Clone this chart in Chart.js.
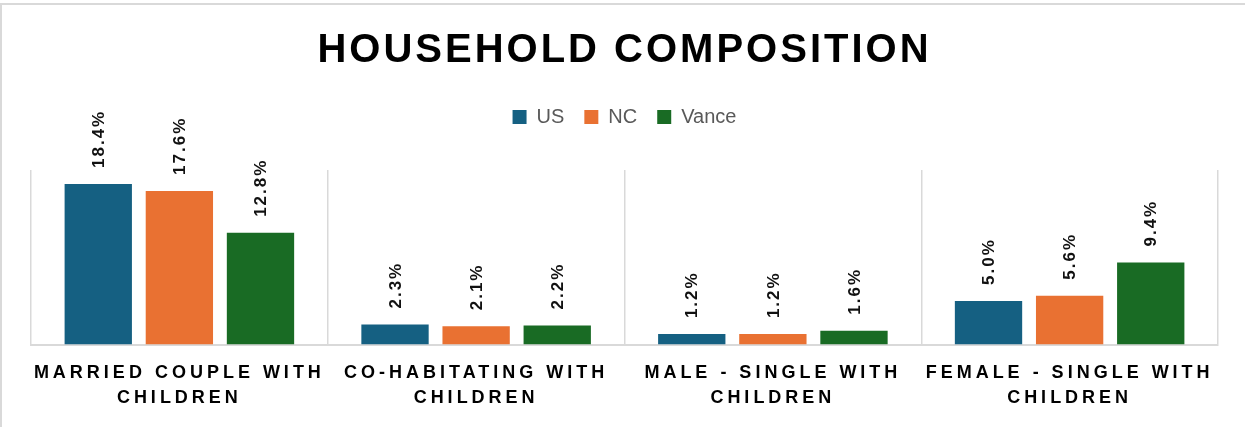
<!DOCTYPE html>
<html>
<head>
<meta charset="utf-8">
<script src="https://cdn.jsdelivr.net/npm/chart.js@4"></script>
<style>
  html, body { margin: 0; padding: 0; background: #fff; }
  #wrap { position: relative; width: 1247px; height: 427px; }
  #frame { position: absolute; left: 0; top: 3px; width: 1245px; height: 424px;
           border-top: 2px solid #d9d9d9; border-left: 2px solid #d9d9d9; box-sizing: border-box; }
  #chart { position: absolute; left: 0; top: 0; }
</style>
</head>
<body>
<div id="wrap">
  <div id="frame"></div>
  <canvas id="chart" width="1247" height="427"></canvas>
</div>
<script>
// data
const categories = [
    ['MARRIED COUPLE WITH', 'CHILDREN'],
    ['CO-HABITATING WITH', 'CHILDREN'],
    ['MALE - SINGLE WITH', 'CHILDREN'],
    ['FEMALE - SINGLE WITH', 'CHILDREN']
];
const seriesNames = ['US', 'NC', 'Vance'];
const usValues = [18.4, 2.3, 1.2, 5.0];
const ncValues = [17.6, 2.1, 1.2, 5.6];
const vanceValues = [12.8, 2.2, 1.6, 9.4];
const colors = ['#156082', '#E97132', '#196B24'];

// canvas letter spacing for a single draw call
function spaced(obj, method, px) {
    if (!obj || obj['_sp_' + method]) return;
    const orig = obj[method];
    obj[method] = function () {
        const ctx = this.ctx;
        const old = ctx.letterSpacing;
        ctx.letterSpacing = px;
        const r = orig.apply(this, arguments);
        ctx.letterSpacing = old;
        return r;
    };
    obj['_sp_' + method] = true;
}

const letterSpacing = {
    id: 'letterSpacing',
    beforeDraw(chart) {
        spaced(chart.titleBlock, 'draw', '3px');
        spaced(chart.scales.x, 'drawLabels', '4px');
    }
};

// extra room between legend and plot
const legendGap = {
    id: 'legendGap',
    beforeInit(chart) {
        const fit = chart.legend.fit;
        chart.legend.fit = function () {
            fit.bind(chart.legend)();
            this.height += 33;
        };
    }
};

// rotated value labels above each bar
const barLabels = {
    id: 'barLabels',
    afterDatasetsDraw(chart) {
        const ctx = chart.ctx;
        ctx.save();
        ctx.font = 'bold 17px "Liberation Sans", Arial, sans-serif';
        ctx.letterSpacing = '2px';
        ctx.fillStyle = '#111';
        ctx.textAlign = 'left';
        ctx.textBaseline = 'middle';
        chart.data.datasets.forEach((ds, i) => {
            chart.getDatasetMeta(i).data.forEach((bar, j) => {
                ctx.save();
                ctx.translate(bar.x, bar.y - 16);
                ctx.rotate(-Math.PI / 2);
                ctx.fillText(ds.data[j].toFixed(1) + '%', 0, 1);
                ctx.restore();
            });
        });
        ctx.restore();
    }
};

const seriesData = [usValues, ncValues, vanceValues];

new Chart(document.getElementById('chart'), {
    type: 'bar',
    data: {
        labels: categories,
        datasets: seriesNames.map((name, i) => ({
            label: name,
            data: seriesData[i],
            backgroundColor: colors[i],
            borderWidth: 0,
            categoryPercentage: 0.82,
            barPercentage: 0.83
        }))
    },
    options: {
        responsive: false,
        animation: false,
        layout: { padding: { left: 31, right: 29, top: 0, bottom: 0 } },
        plugins: {
            title: {
                display: true,
                text: 'HOUSEHOLD COMPOSITION',
                color: '#000',
                font: { family: '"Liberation Sans", Arial, sans-serif', size: 40, weight: 'bold', lineHeight: 1.2 },
                padding: { top: 27, bottom: 12 }
            },
            legend: {
                display: true,
                labels: {
                    color: '#595959',
                    font: { family: '"Liberation Sans", Arial, sans-serif', size: 20 },
                    boxWidth: 14,
                    boxHeight: 14,
                    padding: 20
                }
            },
            tooltip: { enabled: false }
        },
        scales: {
            x: {
                grid: { display: true, offset: true, color: '#d9d9d9', lineWidth: 1.5, drawTicks: false },
                border: { display: true, color: '#d9d9d9', width: 2 },
                ticks: {
                    color: '#000',
                    font: { family: '"Liberation Sans", Arial, sans-serif', size: 18, weight: 'bold', lineHeight: 1.4 },
                    padding: 16,
                    maxRotation: 0,
                    autoSkip: false
                }
            },
            y: {
                display: false,
                min: 0,
                max: 20
            }
        }
    },
    plugins: [letterSpacing, legendGap, barLabels]
});
</script>
</body>
</html>
